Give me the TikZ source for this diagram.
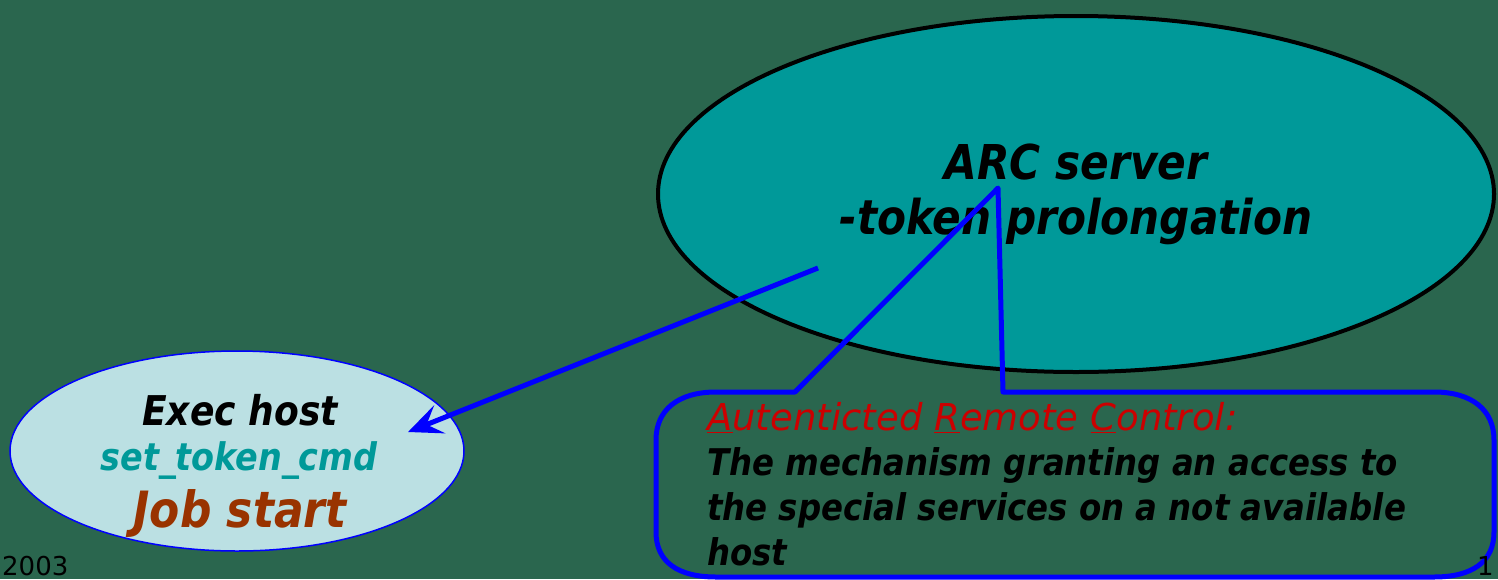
\documentclass[tikz,border=0pt]{standalone}
\usepackage{fontspec}
\usetikzlibrary{shapes.geometric,arrows.meta}
\newfontfamily\slidefont[FakeStretch=0.88]{DejaVu Sans}
\newfontfamily\footfont{DejaVu Sans}
\definecolor{slidebg}{RGB}{42,102,78}
\definecolor{arcteal}{RGB}{0,153,153}
\definecolor{execfill}{RGB}{187,224,227}
\definecolor{jobbrown}{RGB}{153,51,0}
\definecolor{arcred}{RGB}{204,0,0}

\begin{document}
\begin{tikzpicture}[x=1pt,y=-1pt,
  boldit/.style={font=\slidefont\bfseries\itshape\fontsize{#1}{#1}\selectfont},
  bubble/.style={draw=blue,line width=5pt,line join=round},
  pointer/.style={draw=blue,line width=5pt,-{Stealth[length=34pt,width=30pt,inset=14pt]}},
  foot/.style={font=\footfont\fontsize{26}{26}\selectfont,anchor=base west,inner sep=0pt}]
\useasboundingbox (0,0) rectangle (1498,579);
\fill[slidebg] (0,0) rectangle (1498,579);

\node[ellipse,draw=black,line width=4pt,fill=arcteal,minimum width=836pt,minimum height=356pt,
  align=center,font=\slidefont\bfseries\itshape\fontsize{48}{55}\selectfont] (arc) at (1076,194)
  {ARC server\\-token prolongation};

\node[ellipse,draw=blue,line width=1.5pt,fill=execfill,minimum width=454pt,minimum height=200pt] (exec) at (237,451) {};
\node[boldit=41,anchor=base,inner sep=0pt] (exectitle) at (240,425) {Exec host};
\node[boldit=38,anchor=base,inner sep=0pt,text=arcteal] (execcmd) at (239,470) {set\_token\_cmd};
\node[boldit=50,anchor=base,inner sep=0pt,text=jobbrown] (execjob) at (240,527) {Job start};

% callout
\draw[bubble] (998,188) -- (795,392) -- (716,392) .. controls (678,392) and (656,410) .. (656,440)
  -- (656,532) .. controls (656,562) and (678,577) .. (716,577) -- (1434,577)
  .. controls (1472,577) and (1494,562) .. (1494,532) -- (1494,440)
  .. controls (1494,410) and (1472,392) .. (1434,392) -- (1003,392) -- cycle;
\node[anchor=north west,inner sep=0pt,align=left,font=\slidefont\bfseries\itshape\fontsize{36.8}{45}\selectfont] (note) at (707,402)
  {{\footfont\mdseries\itshape\fontsize{37}{45}\selectfont\color{arcred}\underline{A}utenticted \underline{R}emote \underline{C}ontrol:}\\
   The mechanism granting an access to\\
   the special services on a not available\\
   host};

\coordinate (fromarc) at (818,268);
\coordinate (toexec) at (408,432);
\draw[pointer] (fromarc) -- (toexec);

\node[foot] (year) at (2,575) {2003};
\node[foot] (page) at (1477,575) {1};
\end{tikzpicture}
\end{document}
